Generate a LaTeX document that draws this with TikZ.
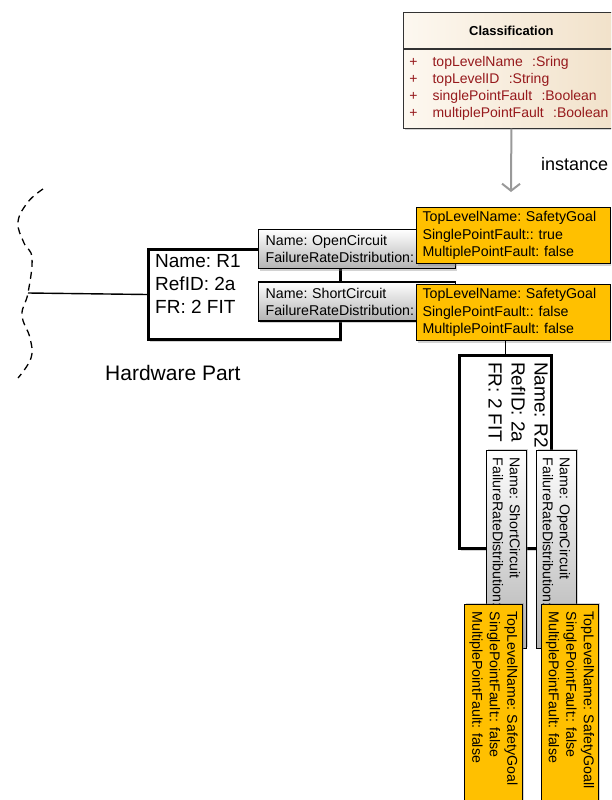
\documentclass[tikz,border=0pt]{standalone}
\usepackage{fontspec}
\setmainfont{Liberation Sans}
\usepackage{xcolor}
\usetikzlibrary{arrows.meta, positioning, calc, shadows}

\definecolor{faultorange}{RGB}{255,192,0}
\definecolor{attrred}{RGB}{150,25,28}
\definecolor{umlcreamL}{RGB}{253,248,240}
\definecolor{umlcreamR}{RGB}{241,225,201}

\begin{document}
\frenchspacing
\begin{tikzpicture}[
    x=1pt, y=-1pt,
    softshadow/.style={drop shadow={shadow xshift=1.5pt, shadow yshift=-2pt, opacity=0.35}},
    rotshadow/.style={drop shadow={shadow xshift=2pt, shadow yshift=1.5pt, opacity=0.35}},
    umlhead/.style={rectangle, draw=black!80, line width=0.8pt, left color=umlcreamL, right color=umlcreamR, minimum width=216pt, minimum height=36pt, inner sep=0pt, font=\fontsize{13}{15}\selectfont\bfseries, softshadow},
    umlbody/.style={rectangle, draw=black!80, line width=0.8pt, left color=umlcreamL, right color=umlcreamR, minimum width=216pt, minimum height=79pt, text width=204pt, inner xsep=6pt, align=left, font=\fontsize{14}{17}\selectfont, text=attrred, softshadow},
    partbox/.style={rectangle, draw=black, line width=3pt, fill=white, inner sep=0pt, softshadow},
    parttext/.style={inner sep=0pt, align=left, font=\fontsize{19}{23}\selectfont},
    modebox/.style={rectangle, draw=black, line width=1.3pt, top color=white, bottom color=black!30, minimum width=197pt, minimum height=39pt, text width=183pt, inner xsep=7pt, inner ysep=0pt, align=left, font=\fontsize{14.2}{17}\selectfont},
    goalbox/.style={rectangle, draw=black, line width=1.1pt, fill=faultorange, minimum width=194pt, minimum height=56pt, text width=182pt, inner xsep=6pt, inner ysep=0pt, align=left, font=\fontsize{14.2}{17.5}\selectfont},
    link/.style={draw=black, line width=1.4pt},
    boundary/.style={draw=black, line width=1.3pt, dash pattern=on 7pt off 5pt},
    instarrow/.style={-{Straight Barb[length=7pt, width=18pt, line width=2pt]}, draw=black!40, line width=2pt},
    caption/.style={inner sep=0pt, font=\fontsize{21}{25}\selectfont},
    tag/.style={inner sep=0pt, font=\fontsize{18}{22}\selectfont},
]
\useasboundingbox (0,0) rectangle (611,800);
\clip (0,0) rectangle (611,800);

% ── Classification class ──
\node[umlhead, anchor=north west] (classhead) at (403,12) {Classification};
\node[umlbody, below=0pt of classhead] (classbody) {+\hspace{15pt}topLevelName\ \ :Sring\\+\hspace{15pt}topLevelID\ \ :String\\+\hspace{15pt}singlePointFault\ \ :Boolean\\+\hspace{15pt}multiplePointFault\ \ :Boolean};

% ── Instance arrow ──
\coordinate (instTip) at (511,192);
\draw[instarrow] (classbody.south) -- (instTip);
\node[tag, anchor=base west] (instlabel) at (541,170) {instance};

% ── Hardware part boundary ──
\draw[boundary] plot[smooth, tension=0.7] coordinates {(43,189) (28,202) (18,222) (24,243) (32,258) (28,293) (22,315) (30,338) (31,358) (18,378)};
\coordinate (hwEdge) at (28,293);
\node[caption, anchor=base west] (hwcaption) at (105,380) {Hardware Part};

% ── Part R1 ──
\node[partbox, minimum width=192pt, minimum height=90pt, anchor=north west] (hwR1) at (147,248) {};
\node[parttext, below right=6pt and 8pt of hwR1.north west] (hwR1txt) {Name: R1\\RefID: 2a\\FR: 2 FIT};
\draw[link] (hwEdge) -- (hwR1.west);

% ── Failure modes of R1 ──
\node[modebox, softshadow, anchor=north west] (open1) at (258,229) {Name: OpenCircuit\\FailureRateDistribution:};
\node[modebox, softshadow, below=12pt of open1] (short1) {Name: ShortCircuit\\FailureRateDistribution:};

% ── Classifications of R1 ──
\node[goalbox, softshadow, anchor=north west] (og1) at (416,207) {TopLevelName: SafetyGoal\\SinglePointFault:: true\\MultiplePointFault: false};
\node[goalbox, softshadow, below=20pt of og1] (og2) {TopLevelName: SafetyGoal\\SinglePointFault:: false\\MultiplePointFault: false};

% ── Part R2 ──
\node[partbox, minimum width=92pt, minimum height=193pt, anchor=north west] (hwR2) at (458,354) {};
\draw[link] (og2.south -| hwR2.north) -- (hwR2.north);
\node[parttext, rotate=-90, anchor=north west] (hwR2txt) at ($(hwR2.north east)+(-5,8)$) {Name: R2\\RefID: 2a\\FR: 2 FIT};

% ── Failure modes of R2 ──
\node[modebox, rotshadow, rotate=-90, anchor=north west, minimum width=198pt, minimum height=40pt, text width=184pt] (short2) at (527,450) {Name: ShortCircuit\\FailureRateDistribution:};
\node[modebox, rotshadow, rotate=-90, anchor=north west, minimum width=198pt, minimum height=40pt, text width=184pt] (open2) at (577,450) {Name: OpenCircuit\\FailureRateDistribution:};

% ── Classifications of R2 ──
\node[goalbox, rotshadow, rotate=-90, anchor=north west, minimum width=200pt, minimum height=58pt, text width=186pt] (og3) at (523,604) {TopLevelName: SafetyGoal\\SinglePointFault:: false\\MultiplePointFault: false};
\node[goalbox, rotshadow, rotate=-90, anchor=north west, minimum width=200pt, minimum height=57pt, text width=186pt] (og4) at (599,604) {TopLevelName: SafetyGoall\\SinglePointFault:: false\\MultiplePointFault: false};

\end{tikzpicture}
\end{document}
